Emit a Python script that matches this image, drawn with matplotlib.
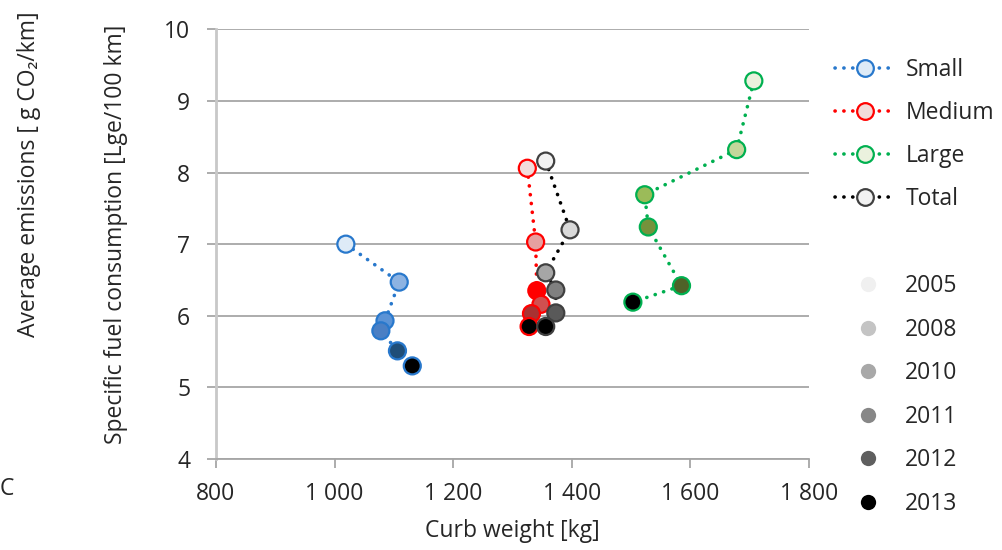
import matplotlib
matplotlib.use("Agg")
import matplotlib.pyplot as plt
from matplotlib.lines import Line2D
from matplotlib.ticker import FuncFormatter

plt.rcParams['font.family'] = ['Open Sans', 'DejaVu Sans']

years = ["2005", "2008", "2010", "2011", "2012", "2013"]

small_w = [1019, 1109, 1085, 1078, 1106, 1131]
small_c = [7.00, 6.47, 5.93, 5.79, 5.51, 5.30]
medium_w = [1325, 1339, 1341, 1348, 1332, 1328]
medium_c = [8.06, 7.03, 6.35, 6.16, 6.03, 5.85]
large_w = [1707, 1678, 1523, 1529, 1585, 1503]
large_c = [9.28, 8.32, 7.69, 7.24, 6.42, 6.19]
total_w = [1356, 1397, 1356, 1373, 1373, 1356]
total_c = [8.16, 7.20, 6.60, 6.36, 6.04, 5.85]

series = [
    ("Small", small_w, small_c, "#2878CC",
     ["#DEEBF7", "#8DB3E2", "#5B93D6", "#4A7FC4", "#1F4E79", "#000000"]),
    ("Medium", medium_w, medium_c, "#FF0000",
     ["#F2DCDB", "#E6A0A0", "#FF0000", "#D05050", "#A83232", "#000000"]),
    ("Large", large_w, large_c, "#00B050",
     ["#EBF1DE", "#C4D79B", "#9BBB59", "#76923C", "#4F6228", "#000000"]),
    ("Total", total_w, total_c, "#000000",
     ["#F2F2F2", "#D9D9D9", "#A6A6A6", "#808080", "#595959", "#000000"]),
]
edge_cols = {"Small": "#2878CC", "Medium": "#FF0000", "Large": "#00B050", "Total": "#404040"}
year_greys = ["#F0F0F0", "#C4C4C4", "#A8A8A8", "#878787", "#5F5F5F", "#000000"]

fs = 16.5
txt = "#262626"

fig = plt.figure(figsize=(10.03, 5.5), dpi=100)
ax = fig.add_axes([216 / 1003, 1 - 459 / 550, (809 - 216) / 1003, (459 - 29.3) / 550])

dotted = (0, (0.05, 2.4))
for name, w, c, col, faces in series:
    ax.plot(w, c, color=col, lw=2.6, linestyle=dotted, dash_capstyle="round", zorder=2)
    ax.scatter(w, c, s=150, c=faces, edgecolors=edge_cols[name], linewidths=1.6, zorder=3)

ax.set_xlim(800, 1800)
ax.set_ylim(4, 10)
ax.set_xticks(range(800, 1801, 200))
ax.set_yticks(range(4, 11))
ax.xaxis.set_major_formatter(FuncFormatter(lambda v, p: f"{int(v):,}".replace(",", " ")))
ax.yaxis.grid(True, color="#A6A6A6", lw=1.3)
ax.set_axisbelow(True)
for s in ("top", "right"):
    ax.spines[s].set_visible(False)
ax.spines["left"].set_color("#C8C8C8")
ax.spines["left"].set_linewidth(2)
ax.spines["bottom"].set_color("#A6A6A6")
ax.spines["bottom"].set_linewidth(1.3)
ax.tick_params(axis="both", colors="#A6A6A6", labelcolor=txt, labelsize=fs, width=1.3, length=6.5)
ax.tick_params(axis="y", pad=12)
ax.tick_params(axis="x", pad=10)

fig.text(512 / 1003, 1 - 531 / 550, "Curb weight [kg]", ha="center", va="center", fontsize=fs, color=txt)
fig.text(116 / 1003, 1 - 234 / 550, "Specific fuel consumption [Lge/100 km]", rotation=90,
         ha="center", va="center", fontsize=fs, color=txt)
fig.text(29 / 1003, 1 - 337 / 550, "Average emissions [ g CO\u2082/km]", rotation=90,
         ha="center", va="bottom", fontsize=fs, color=txt)
fig.text(0, 1 - 489 / 550, "C", ha="left", va="center", fontsize=fs, color=txt)

handles = [Line2D([], [], color=col, lw=2.6, linestyle=dotted, dash_capstyle="round",
                  marker="o", markersize=12, markerfacecolor=faces[0],
                  markeredgecolor=edge_cols[name], markeredgewidth=1.6)
           for name, w, c, col, faces in series]
fig.legend(handles, [s[0] for s in series], loc="upper left",
           bbox_to_anchor=(826 / 1003, 1 - 49 / 550), frameon=False, fontsize=fs,
           handlelength=2.6, handletextpad=0.5, labelspacing=0.82, borderaxespad=0,
           labelcolor=txt)

yh = [Line2D([], [], linestyle="none", marker="o", markersize=11, markerfacecolor=g,
             markeredgecolor="none") for g in year_greys]
fig.legend(yh, years, loc="upper left", bbox_to_anchor=(836 / 1003, 1 - 265 / 550),
           frameon=False, fontsize=fs, handlelength=2.0, handletextpad=0.6,
           labelspacing=0.85, borderaxespad=0, labelcolor=txt)

fig.savefig("out.png", dpi=100)
